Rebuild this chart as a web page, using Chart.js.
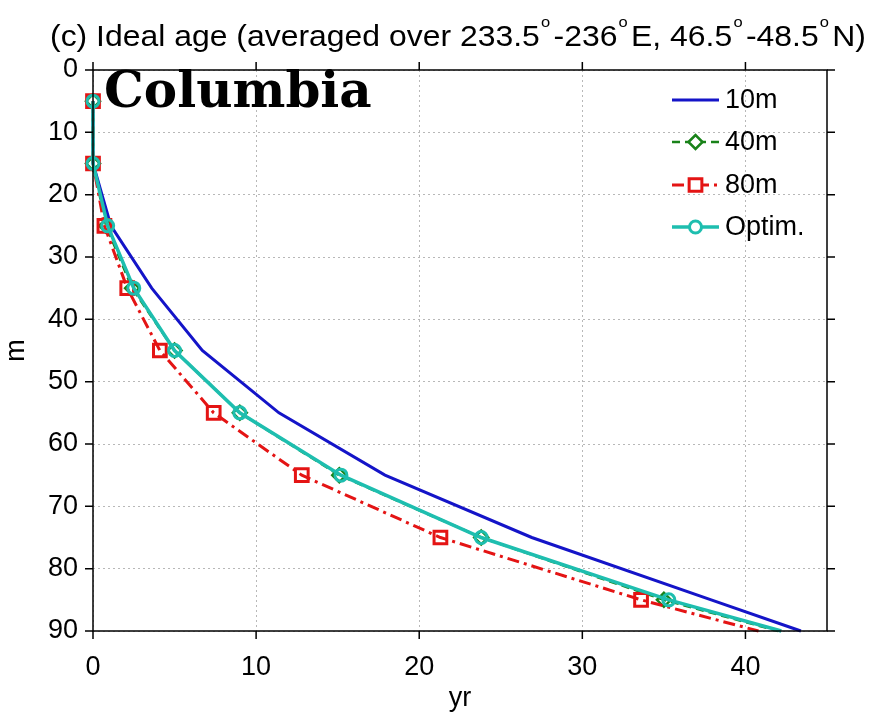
<!DOCTYPE html>
<html>
<head>
<meta charset="utf-8">
<script src="https://cdn.jsdelivr.net/npm/chart.js@4"></script>
<style>
  body { margin: 0; background: #fff; }
  #wrap { width: 869px; height: 717px; }
</style>
</head>
<body>
<div id="wrap"><canvas id="chart" width="869" height="717"></canvas></div>
<script>
// depth levels (m) and ideal age (yr)
const depths = [5, 15, 25, 35, 45, 55, 65, 75, 85, 90];
const age10m = [0, 0, 1.1, 3.6, 6.7, 11.4, 17.9, 26.9, 37.9, 43.4];
const age40m = [0, 0, 0.8, 2.4, 5.0, 9.0, 15.1, 23.8, 35.0, 42.0];
const age80m = [0, 0, 0.7, 2.1, 4.1, 7.4, 12.8, 21.3, 33.6, 40.8];
const ageOptim = [0, 0, 0.9, 2.5, 5.0, 9.0, 15.2, 23.8, 35.3, 42.2];
const seriesNames = ["10m", "40m", "80m", "Optim."];
const xTicks = [0, 10, 20, 30, 40];
const yTicks = [0, 10, 20, 30, 40, 50, 60, 70, 80, 90];

const FONT = "'Liberation Sans', Arial, sans-serif";

function pts(ages) {
  return depths.map((d, i) => ({ x: ages[i], y: d }));
}
// no marker on the last point (where the line leaves the axes)
function markerRadius(r) {
  return depths.map((d, i) => (i === depths.length - 1 ? 0 : r));
}

const titlePlugin = {
  id: "titlePlugin",
  afterDraw(chart) {
    const ctx = chart.ctx;
    ctx.save();
    // title with superscript degree marks
    const parts = [
      ["(c) Ideal age (averaged over 233.5 ", false], ["o", true],
      ["-236 ", false], ["o", true], ["E, 46.5 ", false], ["o", true],
      ["-48.5 ", false], ["o", true], ["N)", false],
    ];
    const big = "29px " + FONT, small = "15px " + FONT;
    let w = 0;
    parts.forEach(([t, sup]) => {
      ctx.font = sup ? small : big;
      w += ctx.measureText(t).width - (sup ? 4 : 0);
    });
    const x0 = 50, x1 = 866;
    const sx = (x1 - x0) / w;
    ctx.translate(x0, 0);
    ctx.scale(sx, 1);
    let x = 0;
    ctx.fillStyle = "#000";
    ctx.textBaseline = "alphabetic";
    parts.forEach(([t, sup]) => {
      ctx.font = sup ? small : big;
      if (sup) {
        ctx.fillText(t, x - 7, 27);
        x += ctx.measureText(t).width - 4;
      } else {
        ctx.fillText(t, x, 46);
        x += ctx.measureText(t).width;
      }
    });
    ctx.restore();

    // region label
    ctx.save();
    ctx.font = "bold 50px 'DejaVu Serif', serif";
    ctx.fillStyle = "#000";
    ctx.fillText("Columbia", 104, 107);
    ctx.restore();
  },
};

const boxPlugin = {
  id: "boxPlugin",
  afterDatasetsDraw(chart) {
    const { ctx, chartArea: a, scales } = chart;
    ctx.save();
    ctx.strokeStyle = "#000";
    ctx.lineWidth = 1.5;
    ctx.setLineDash([]);
    ctx.strokeRect(a.left, a.top, a.right - a.left, a.bottom - a.top);
    // outward tick marks on all four sides
    const len = 8;
    ctx.beginPath();
    xTicks.forEach((v) => {
      const px = scales.x.getPixelForValue(v);
      ctx.moveTo(px, a.bottom); ctx.lineTo(px, a.bottom + len);
      ctx.moveTo(px, a.top); ctx.lineTo(px, a.top - len);
    });
    yTicks.forEach((v) => {
      const py = scales.y.getPixelForValue(v);
      ctx.moveTo(a.left, py); ctx.lineTo(a.left - len, py);
      ctx.moveTo(a.right, py); ctx.lineTo(a.right + len, py);
    });
    ctx.stroke();

    // legend, drawn from the datasets themselves
    const lx0 = 672, lx1 = 719, ys = [100, 142, 185, 227];
    chart.data.datasets.forEach((ds, i) => {
      const y = ys[i];
      ctx.strokeStyle = ds.borderColor;
      ctx.lineWidth = ds.borderWidth;
      ctx.setLineDash(ds.borderDash || []);
      ctx.beginPath();
      ctx.moveTo(lx0, y); ctx.lineTo(lx1, y);
      ctx.stroke();
      ctx.setLineDash([]);
      if (ds.pointStyle) {
        ctx.fillStyle = "#fff";
        ctx.lineWidth = ds.pointBorderWidth;
        Chart.helpers.drawPoint(ctx, {
          pointStyle: ds.pointStyle,
          radius: ds.pointRadius[0],
          rotation: 0,
          borderWidth: ds.pointBorderWidth,
        }, (lx0 + lx1) / 2, y);
      }
      ctx.fillStyle = "#000";
      ctx.font = "27px " + FONT;
      ctx.textBaseline = "middle";
      ctx.fillText(ds.label, 725, y + 1);
    });
    ctx.restore();
  },
};

new Chart(document.getElementById("chart"), {
  type: "scatter",
  data: {
    datasets: [
      {
        label: seriesNames[0],
        data: pts(age10m),
        showLine: true,
        borderColor: "rgb(20,20,200)",
        backgroundColor: "rgb(20,20,200)",
        borderWidth: 3,
        pointRadius: 0,
        clip: false,
        order: 4,
      },
      {
        label: seriesNames[1],
        data: pts(age40m),
        showLine: true,
        borderColor: "rgb(25,130,25)",
        backgroundColor: "rgba(0,0,0,0)",
        borderWidth: 2.5,
        borderDash: [8, 5],
        pointStyle: "rectRot",
        pointRadius: markerRadius(7),
        pointBorderWidth: 2.5,
        clip: false,
        order: 3,
      },
      {
        label: seriesNames[2],
        data: pts(age80m),
        showLine: true,
        borderColor: "rgb(228,20,20)",
        backgroundColor: "rgba(0,0,0,0)",
        borderWidth: 3,
        borderDash: [12, 5, 3, 5],
        pointStyle: "rect",
        pointRadius: markerRadius(9),
        pointBorderWidth: 3,
        clip: false,
        order: 2,
      },
      {
        label: seriesNames[3],
        data: pts(ageOptim),
        showLine: true,
        borderColor: "rgb(30,190,175)",
        backgroundColor: "rgba(0,0,0,0)",
        borderWidth: 3.5,
        pointStyle: "circle",
        pointRadius: markerRadius(6),
        pointBorderWidth: 3,
        clip: false,
        order: 1,
      },
    ],
  },
  options: {
    responsive: false,
    animation: false,
    layout: { padding: { top: 70, right: 42, left: 0, bottom: 0 } },
    plugins: { legend: { display: false }, tooltip: { enabled: false } },
    elements: { line: { tension: 0 } },
    scales: {
      x: {
        type: "linear",
        min: 0,
        max: 45,
        afterBuildTicks: (s) => { s.ticks = xTicks.map((v) => ({ value: v })); },
        afterFit: (s) => { s.height = 86; },
        grid: { color: "#b8b8b8", drawTicks: false, lineWidth: 1 },
        border: { display: false, dash: [2, 3] },
        ticks: { color: "#000", padding: 20, font: { size: 27, family: FONT } },
        title: { display: true, text: "yr", color: "#000", font: { size: 27, family: FONT }, padding: { top: 0, bottom: 2 } },
      },
      y: {
        type: "linear",
        reverse: true,
        min: 0,
        max: 90,
        afterBuildTicks: (s) => { s.ticks = yTicks.map((v) => ({ value: v })); },
        afterFit: (s) => { s.width = 93; },
        grid: { color: "#b8b8b8", drawTicks: false, lineWidth: 1 },
        border: { display: false, dash: [2, 3] },
        ticks: { color: "#000", padding: 15, font: { size: 27, family: FONT } },
        title: { display: true, text: "m", color: "#000", font: { size: 27, family: FONT }, padding: { top: 0, bottom: 8 } },
      },
    },
  },
  plugins: [titlePlugin, boxPlugin],
});
</script>
</body>
</html>
